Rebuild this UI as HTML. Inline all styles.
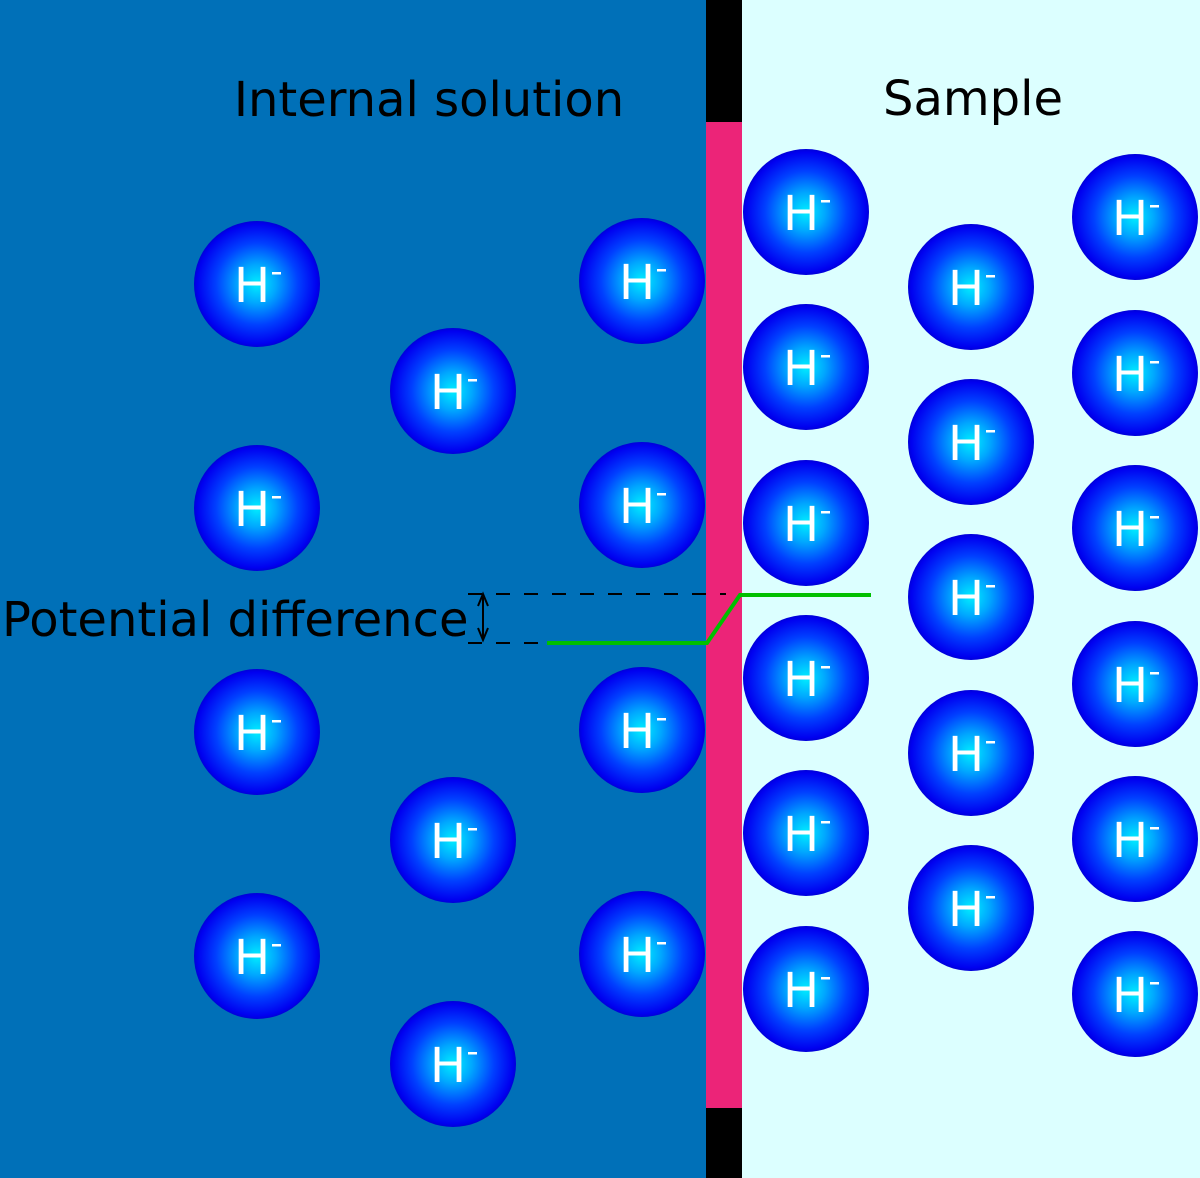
<!DOCTYPE html>
<html><head><style>html,body{margin:0;padding:0;width:1200px;height:1178px;overflow:hidden}</style></head>
<body>
<svg width="1200" height="1178" viewBox="0 0 1200 1178" xmlns="http://www.w3.org/2000/svg" font-family="'DejaVu Sans','Liberation Sans',sans-serif">
<defs>
<radialGradient id="g" cx="0.5" cy="0.5" r="0.5">
<stop offset="0" stop-color="#00eeff"/>
<stop offset="0.3" stop-color="#00a8ff"/>
<stop offset="0.65" stop-color="#0040ff"/>
<stop offset="0.95" stop-color="#0000f0"/>
<stop offset="1" stop-color="#0000d8"/>
</radialGradient>
<g id="h">
<circle r="63" fill="url(#g)"/>
<text x="-5" y="18" font-size="48" fill="#fff" text-anchor="middle">H</text>
<rect x="15" y="-12" width="9" height="2.5" fill="#fff"/>
</g>
</defs>
<rect width="706" height="1178" fill="#0070b8"/>
<rect x="706" width="36" height="1178" fill="#000"/>
<rect x="706" y="122" width="36" height="986" fill="#ec2478"/>
<rect x="742" width="458" height="1178" fill="#dcffff"/>
<text x="429" y="116" font-size="48" text-anchor="middle" fill="#000">Internal solution</text>
<text x="973" y="115" font-size="48" text-anchor="middle" fill="#000">Sample</text>
<g>
<use href="#h" x="257" y="284"/><use href="#h" x="257" y="508"/><use href="#h" x="257" y="732"/><use href="#h" x="257" y="956"/>
<use href="#h" x="453" y="391"/><use href="#h" x="453" y="840"/><use href="#h" x="453" y="1064"/>
<use href="#h" x="642" y="281"/><use href="#h" x="642" y="505"/><use href="#h" x="642" y="730"/><use href="#h" x="642" y="954"/>
<use href="#h" x="806" y="212"/><use href="#h" x="806" y="367"/><use href="#h" x="806" y="523"/><use href="#h" x="806" y="678"/><use href="#h" x="806" y="833"/><use href="#h" x="806" y="989"/>
<use href="#h" x="971" y="287"/><use href="#h" x="971" y="442"/><use href="#h" x="971" y="597"/><use href="#h" x="971" y="753"/><use href="#h" x="971" y="908"/>
<use href="#h" x="1135" y="217"/><use href="#h" x="1135" y="373"/><use href="#h" x="1135" y="528"/><use href="#h" x="1135" y="684"/><use href="#h" x="1135" y="839"/><use href="#h" x="1135" y="994"/>
</g>
<text x="2" y="636" font-size="48" fill="#000">Potential difference</text>
<line x1="468" y1="594" x2="726" y2="594" stroke="#000" stroke-width="2" stroke-dasharray="14,14"/>
<line x1="468" y1="643" x2="545" y2="643" stroke="#000" stroke-width="2" stroke-dasharray="14,14"/>
<line x1="483" y1="597" x2="483" y2="640" stroke="#000" stroke-width="2"/>
<path d="M478,606 L483,594 L488,606 M478,628 L483,640 L488,628" fill="none" stroke="#000" stroke-width="2"/>
<polyline points="547,643 707,643 740,595 871,595" fill="none" stroke="#00c000" stroke-width="4"/>
</svg>
</body></html>
